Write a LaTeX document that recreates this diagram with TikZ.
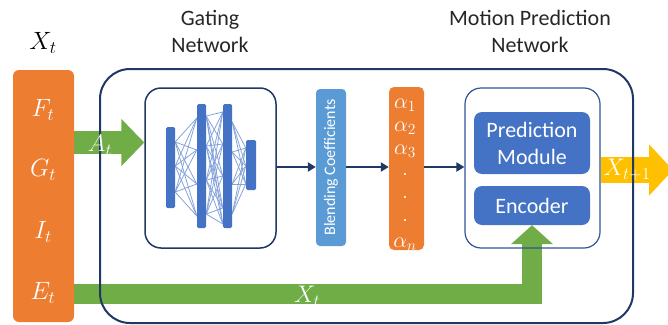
\RequirePackage{fix-cm}
\documentclass[tikz,border=0pt]{standalone}
\usepackage{fontspec}
\setmainfont{Carlito}
\usetikzlibrary{arrows.meta}
\pgfdeclarelayer{background}
\pgfsetlayers{background,main}
\definecolor{orng}{HTML}{ED7D31}
\definecolor{grn}{HTML}{70AD47}
\definecolor{yel}{HTML}{FFC000}
\definecolor{blu}{HTML}{4472C4}
\definecolor{lblu}{HTML}{5B9BD5}
\definecolor{navy}{HTML}{1F3864}
\definecolor{mblu}{HTML}{2F5597}
\begin{document}
\begin{tikzpicture}[x=1pt,y=-1pt,
  box/.style={rectangle,inner sep=0pt,anchor=center},
  ttl/.style={font=\fontsize{22}{27}\selectfont,align=center,text=black!85},
  wmath/.style={text=white,inner sep=0pt,font=\fontsize{25}{28}\selectfont},
  amath/.style={text=white,inner sep=0pt,font=\fontsize{22}{24}\selectfont},
  bar/.style={box,fill=blu,rounded corners=1.5pt},
  conn/.style={draw=blu!65,line width=0.8pt},
  flow/.style={draw=navy,line width=2pt,-{Triangle[length=8pt,width=9pt]}},
  wlabel/.style={text=white,inner sep=0pt,font=\fontsize{24}{26}\selectfont}]
\useasboundingbox (0,0) rectangle (668,324);
% titles
\node[wmath,text=black] (xt) at (43,43) {$X_t$};
\node[ttl] (gt) at (210,31) {Gating\\Network};
\node[ttl] (mt) at (530,31) {Motion Prediction\\Network};
% input column
\node[box,fill=orng,rounded corners=6pt,minimum width=61pt,minimum height=252pt] (col) at (43.5,196) {};
\node[wmath] (ft) at (43,110) {$F_t$};
\node[wmath] (gtl) at (43,170) {$G_t$};
\node[wmath] (itl) at (43,232) {$I_t$};
\node[wmath] (etl) at (43,293) {$E_t$};
% big box
\node[box,draw=navy,line width=2pt,rounded corners=30pt,minimum width=533pt,minimum height=254pt] (big) at (366.5,196) {};
% NN box
\node[box,draw=navy,line width=1.5pt,rounded corners=16pt,minimum width=131pt,minimum height=160pt] (nn) at (210.5,168) {};
% bars
\node[bar,minimum width=9pt,minimum height=81pt] (b1) at (170.5,167.5) {};
\node[bar,minimum width=9pt,minimum height=124pt] (b2) at (201.5,166) {};
\node[bar,minimum width=9pt,minimum height=124pt] (b3) at (227.5,166) {};
\node[bar,minimum width=10pt,minimum height=50pt] (b4) at (251,165) {};
\begin{pgfonlayer}{background}
\foreach \a in {142,166,192}{\foreach \b in {118,150,184,216}{\draw[conn] (b1.east|-0,\a) -- (b2.west|-0,\b);}}
\foreach \a in {116,146,180,214}{\foreach \b in {112,144,176,208,224}{\draw[conn] (b2.east|-0,\a) -- (b3.west|-0,\b);}}
\foreach \a in {122,152,184,214}{\foreach \b in {148,166,184}{\draw[conn] (b3.east|-0,\a) -- (b4.west|-0,\b);}}
\end{pgfonlayer}
% blending
\node[box,fill=lblu,rounded corners=4pt,minimum width=30pt,minimum height=157pt] (blend) at (331,167.5) {};
\node[rotate=90,text=white,font=\fontsize{16}{18}\selectfont] (bc) at (blend.center) {Blending Coefficients};
% alphas
\node[box,fill=orng,rounded corners=5pt,minimum width=35pt,minimum height=163pt] (alpha) at (406.5,168.5) {};
\node[amath] (a1) at (405,105) {$\alpha_1$};
\node[amath] (a2) at (405,128) {$\alpha_2$};
\node[amath] (a3) at (405,151) {$\alpha_3$};
\node[amath] (d1) at (405,174) {$.$};
\node[amath] (d2) at (405,197) {$.$};
\node[amath] (d3) at (405,220) {$.$};
\node[amath] (an) at (405,244) {$\alpha_n$};
% MPN
\node[box,draw=mblu,line width=1.2pt,rounded corners=16pt,minimum width=135pt,minimum height=160pt] (mpn) at (532.5,168) {};
\node[box,fill=blu,rounded corners=8pt,minimum width=116pt,minimum height=62pt,text=white,font=\fontsize{22}{27}\selectfont,align=center] (pred) at (532,143) {Prediction\\Module};
\node[box,fill=blu,rounded corners=8pt,minimum width=116pt,minimum height=39pt,text=white,font=\fontsize{22}{27}\selectfont] (enc) at (532,205.5) {Encoder};
% flow arrows
\draw[flow] (nn.east|-0,167) -- (blend.west|-0,167);
\draw[flow] (blend.east|-0,167) -- (alpha.west|-0,167);
\draw[flow] (alpha.east|-0,167) -- (mpn.west|-0,167);
% big arrows
\coordinate (yend) at (673,170);
\begin{pgfonlayer}{background}
\draw[grn,line width=23pt,-{Triangle[length=23pt,width=46pt]}] (col.east|-0,142.5) -- (nn.west|-0,142.5);
\draw[grn,line width=20.5pt,-{Triangle[length=19pt,width=41pt]}] (col.east|-0,294) -| (enc.south);
\draw[yel,line width=26pt,-{Triangle[length=24pt,width=50pt]}] (mpn.east|-yend) -- (yend);
\end{pgfonlayer}
\node[wlabel] (atl) at (100,145) {$A_t$};
\node[wlabel] (xtl) at (307,296) {$X_t$};
\node[wlabel] (xt1) at (627,170) {$X_{t+1}$};
\end{tikzpicture}
\end{document}
